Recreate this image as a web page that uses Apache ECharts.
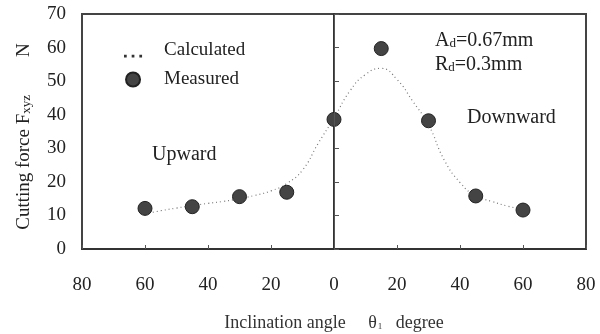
<!DOCTYPE html>
<html>
<head>
<meta charset="utf-8">
<script src="https://cdn.jsdelivr.net/npm/echarts@6/dist/echarts.min.js"></script>
<style>
  html, body { margin: 0; padding: 0; background: #fff; }
  #main { width: 600px; height: 334px; }
</style>
</head>
<body>
<div id="main"></div>
<script>
// inclination angle (deg), negative = upward side
var calcAngles = [-60, -55, -50, -45, -40, -35, -30, -25, -20, -15, -10, -5, 0, 5, 10, 15, 20, 25, 30, 35, 40, 45, 50, 55, 60];
var calcForce  = [10.5, 11.4, 12.2, 12.9, 13.6, 14.2, 15.0, 16.0, 17.3, 19.5, 23.5, 31.5, 39, 47, 52, 53.8, 50.5, 44, 37, 26.5, 19.8, 15.8, 14.2, 12.8, 11.8];

var measAngles = [-60, -45, -30, -15, 0, 15, 30, 45, 60];
var measForce  = [12.1, 12.6, 15.6, 16.9, 38.6, 59.7, 38.2, 15.8, 11.6];

var xTicks = [-80, -60, -40, -20, 0, 20, 40, 60, 80];
var yTicks = [0, 10, 20, 30, 40, 50, 60, 70];

var FONT = "'Liberation Serif', 'Times New Roman', serif";
// three small dots for the "Calculated" legend entry (tiny square on top keeps the box height)
var DOTS = 'path://M0,0h0.01v0.01h-0.01zM0,10h2.4v2.4h-2.4zM6.8,10h2.4v2.4h-2.4zM13.6,10h2.4v2.4h-2.4z';

var myChart = echarts.init(document.getElementById('main'));
myChart.setOption({
  animation: false,
  textStyle: { fontFamily: FONT, color: '#222' },
  grid: {
    left: 82, right: 14, top: 14, bottom: 85,
    outerBoundsMode: 'none',
    show: true, borderColor: '#444', borderWidth: 2
  },
  legend: {
    orient: 'vertical',
    left: 119, top: 36,
    itemGap: 10,
    itemWidth: 20, itemHeight: 14,
    textStyle: { fontFamily: FONT, fontSize: 19, color: '#222', padding: [0, 0, 0, 16] },
    data: [
      { name: 'Calculated', icon: DOTS, itemStyle: { color: '#333' } },
      { name: 'Measured', icon: 'circle' }
    ]
  },
  xAxis: {
    type: 'value',
    min: xTicks[0], max: xTicks[xTicks.length - 1], interval: 20,
    name: '{t|Inclination angle     θ}{s|1}{t|   degree}',
    nameLocation: 'middle', nameGap: 65,
    nameTextStyle: {
      rich: {
        t: { fontFamily: FONT, fontSize: 18, color: '#333' },
        s: { fontFamily: FONT, fontSize: 9, color: '#333', padding: [7, 0, 0, 1] }
      }
    },
    axisLine: { lineStyle: { color: '#333', width: 2 } },
    axisTick: { inside: true, length: 4, lineStyle: { color: '#555' } },
    axisLabel: {
      margin: 27, fontSize: 19, color: '#222', fontFamily: FONT,
      formatter: function (v) { return String(Math.abs(v)); }
    },
    splitLine: { show: false }
  },
  yAxis: {
    type: 'value',
    min: yTicks[0], max: yTicks[yTicks.length - 1], interval: 10,
    name: '{t|Cutting force F}{s|xyz}{t|        N}',
    nameLocation: 'middle', nameGap: 48, nameRotate: 90,
    nameTextStyle: {
      padding: [0, 10, 0, 0],
      rich: {
        t: { fontFamily: FONT, fontSize: 19, color: '#222' },
        s: { fontFamily: FONT, fontSize: 13, color: '#222', padding: [4, 0, 0, 0] }
      }
    },
    axisLine: { show: true, lineStyle: { color: '#333', width: 2 } },
    axisTick: { show: true, inside: true, length: 5, lineStyle: { color: '#555' } },
    axisLabel: { margin: 16, fontSize: 19, color: '#222', fontFamily: FONT },
    splitLine: { show: false }
  },
  series: [
    {
      name: 'Calculated',
      type: 'line',
      smooth: true,
      showSymbol: false,
      symbol: 'none',
      data: calcAngles.map(function (a, i) { return [a, calcForce[i]]; }),
      lineStyle: { type: [1, 3], width: 1.2, color: '#777' },
      itemStyle: { color: '#777' },
      markLine: {
        silent: true,
        symbol: 'none',
        label: { show: false },
        lineStyle: { type: 'solid', color: '#555', width: 1 },
        data: [{ xAxis: 0 }]
      },
      z: 2
    },
    {
      name: 'Measured',
      type: 'scatter',
      symbolSize: 14,
      data: measAngles.map(function (a, i) { return [a, measForce[i]]; }),
      itemStyle: { color: '#444', borderColor: '#222', borderWidth: 1, opacity: 1 },
      z: 3
    }
  ],
  graphic: [
    { type: 'text', left: 152, top: 145, style: { text: 'Upward', font: '20px ' + FONT, fill: '#222' } },
    { type: 'text', left: 467, top: 108, style: { text: 'Downward', font: '20px ' + FONT, fill: '#222' } },
    {
      type: 'text', left: 435, top: 31,
      style: {
        text: '{t|A}{s|d}{t|=0.67mm}',
        rich: {
          t: { font: '20px ' + FONT, fill: '#222' },
          s: { font: '13px ' + FONT, fill: '#222', padding: [6, 0, 0, 0] }
        }
      }
    },
    {
      type: 'text', left: 435, top: 55,
      style: {
        text: '{t|R}{s|d}{t|=0.3mm}',
        rich: {
          t: { font: '20px ' + FONT, fill: '#222' },
          s: { font: '13px ' + FONT, fill: '#222', padding: [6, 0, 0, 0] }
        }
      }
    }
  ]
});
</script>
</body>
</html>
